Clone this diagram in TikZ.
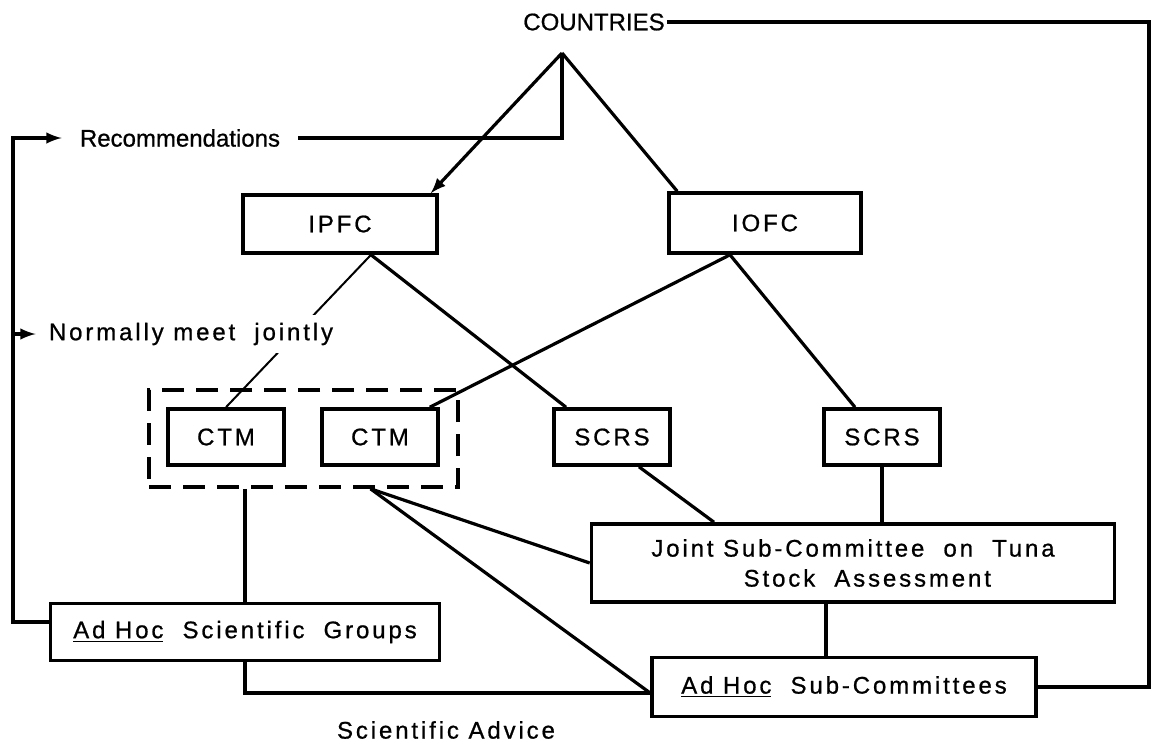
\documentclass[tikz,border=0pt]{standalone}
\usepackage{fontspec}
\setmainfont[FakeBold=0.8]{Liberation Sans}
\newfontfamily\lettered[LetterSpace=12,FakeBold=0.8]{Liberation Sans}
\usetikzlibrary{arrows}
\tikzstyle{box}=[draw,line width=1.8pt,inner sep=0pt,font=\fontsize{12}{15}\lettered]
\tikzstyle{smallbox}=[box,minimum width=58pt,minimum height=28pt]
\tikzstyle{link}=[line width=1.6pt]
\tikzstyle{thin}=[line width=1pt]
\tikzstyle{caption}=[inner sep=1pt,font=\fontsize{12}{15}\selectfont]

\begin{document}
\begin{tikzpicture}[x=0.5pt,y=-0.5pt]
        \useasboundingbox (0,0) rectangle (1152,745);
        % top level
        \node at (594,22) [caption] (countries) {COUNTRIES};
        \coordinate (apex) at (562,53);
        \node at (340,224) [box,minimum width=97pt,minimum height=29pt] (ipfc) {IPFC};
        \node at (765,223) [box,minimum width=96pt,minimum height=30pt] (iofc) {IOFC};
        % working parties
        \node at (303.5,438.5) [draw,line width=1.8pt,dash pattern=on 11pt off 6pt,
                minimum width=154.5pt,minimum height=48.5pt] (joint) {};
        \node at (226,437) [smallbox] (ctma) {CTM};
        \node at (380,437) [smallbox] (ctmb) {CTM};
        \node at (612,437) [smallbox] (scrsa) {SCRS};
        \node at (882,437) [smallbox] (scrsb) {SCRS};
        \node at (853,563) [box,minimum width=261.5pt,minimum height=39pt,align=center] (tuna)
                {Joint\ Sub-Committee\ \ on\ \ Tuna\\\ \ \ Stock\ \ Assessment};
        \node at (245,632) [box,minimum width=194.5pt,minimum height=28.5pt] (groups)
                {\underline{Ad Hoc}\ \ Scientific\ \ Groups};
        \node at (844,687) [box,minimum width=192pt,minimum height=29.5pt] (subcom)
                {\underline{Ad Hoc}\ \ Sub-Committees};
        \node at (446,730) [caption,font=\fontsize{12}{15}\lettered] (advice) {Scientific Advice};

        % countries to commissions
        \draw [link,-latex] (apex) -- ([xshift=-4pt]ipfc.north east);
        \draw [link] (apex) -- ([xshift=5pt]iofc.north west);
        \draw [link] (subcom.east) -| (1149,22) -- (countries.east);

        % commissions to committees
        \coordinate (ipfcfoot) at ([xshift=15.5pt]ipfc.south);
        \coordinate (iofcfoot) at ([xshift=-17.5pt]iofc.south);
        \draw [thin] (ipfcfoot) -- (ctma.north);
        \draw [link] (ipfcfoot) -- ([xshift=-23pt]scrsa.north);
        \draw [link] (iofcfoot) -- ([xshift=-5pt]ctmb.north east);
        \draw [link] (iofcfoot) -- ([xshift=-13.5pt]scrsb.north);

        % assessment links
        \coordinate (jointfoot) at ([xshift=33.5pt]joint.south);
        \draw [link] ([xshift=13.5pt]scrsa.south) -- ([xshift=-69.5pt]tuna.north);
        \draw [link] (scrsb.south) -- (scrsb.south |- tuna.north);
        \draw [link] (jointfoot) -- (tuna.west);
        \draw [link] (jointfoot) -- ([yshift=-3pt]subcom.west);
        \draw [link] (groups.north |- joint.south) -- (groups.north);
        \draw [link] ([xshift=-9pt]subcom.north) -- ([xshift=-9pt]subcom.north |- tuna.south);
        \draw [link] (groups.south) |- ([yshift=-3pt]subcom.west);

        % recommendations back to countries
        \node at (180,138) [caption,inner xsep=9pt] (recs) {Recommendations};
        \coordinate (side) at (13,138);
        \draw [link] (recs.east) -| (apex);
        \draw [link,-latex] ([yshift=5pt]groups.west) -| (side) -- (recs.west);
        \node at (191,334) [caption,fill=white,inner xsep=6.5pt,inner ysep=4pt,
                font=\fontsize{12}{15}\lettered] (meet) {Normally meet\ \ jointly};
        \draw [link,-latex] (side |- meet.west) -- (meet.west);
      \end{tikzpicture}
\end{document}
